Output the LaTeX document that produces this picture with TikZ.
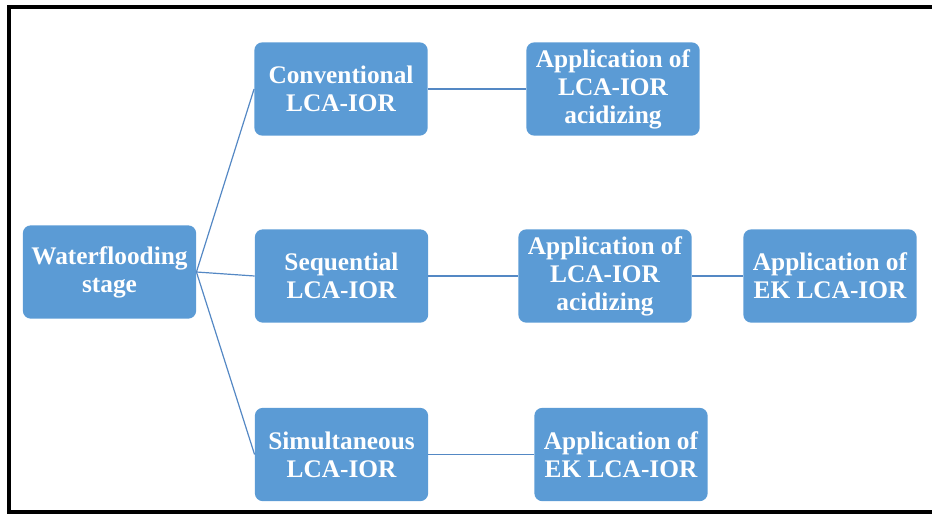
\documentclass[tikz,border=0pt]{standalone}
\usepackage{fontspec}
\setmainfont{Liberation Serif}
\usepackage{tikz}
\usetikzlibrary{positioning,calc}
\definecolor{boxblue}{RGB}{91,155,213}
\definecolor{lineblue}{RGB}{84,136,196}
\tikzset{
  stage/.style={draw=none,fill=boxblue,rounded corners=6pt,minimum width=130pt,minimum height=70pt,
    align=center,text=white,font=\bfseries\fontsize{19}{21}\selectfont,inner sep=0pt},
  link/.style={lineblue,line width=0.9pt}
}

\begin{document}
\begin{tikzpicture}[x=0.75pt,y=-0.75pt]
    \useasboundingbox (0,0) rectangle (932,514);
    \draw[line width=3pt] (932,7) -- (9,7) -- (9,512) -- (932,512);
    % stages
    \node[stage] (wf) at (109.5,272) {Waterflooding\\stage};
    \node[stage] (conv) at (341,89) {Conventional\\LCA-IOR};
    \node[stage] (seq) at (341.5,276) {Sequential\\LCA-IOR};
    \node[stage] (simu) at (341.5,454.5) {Simultaneous\\LCA-IOR};
    % applications
    \node[stage] (convapp) at (613,89) {Application of\\LCA-IOR\\acidizing};
    \node[stage] (seqapp) at (605,276) {Application of\\LCA-IOR\\acidizing};
    \node[stage] (seqek) at (830,276) {Application of\\EK LCA-IOR};
    \node[stage] (simuek) at (621,454.5) {Application of\\EK LCA-IOR};
    \draw[link] (wf.east) -- (conv.west);
    \draw[link] (wf.east) -- (seq.west);
    \draw[link] (wf.east) -- (simu.west);
    \draw[link] (conv) -- (convapp);
    \draw[link] (seq) -- (seqapp);
    \draw[link] (seqapp) -- (seqek);
    \draw[link] (simu) -- (simuek);
\end{tikzpicture}
\end{document}
